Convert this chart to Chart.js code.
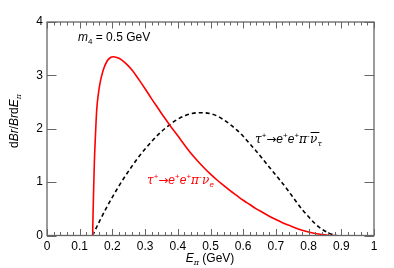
<!DOCTYPE html>
<html>
<head>
<meta charset="utf-8">
<script src="https://cdn.jsdelivr.net/npm/chart.js@4.4.1/dist/chart.umd.min.js"></script>
<style>
html,body{margin:0;padding:0;background:#fff;}
#wrap{width:394px;height:268px;position:relative;}
</style>
</head>
<body>
<div id="wrap"><canvas id="c" width="394" height="268"></canvas></div>
<script>
// Red curve: tau+ -> e+ e+ pi- nu_e
const eRed = [0.1396,0.141,0.143,0.145,0.148,0.152,0.157,0.162,0.172,0.183,0.193,0.203,0.22,0.24,0.26,0.28,0.30,0.32,0.34,0.36,0.38,0.40,0.42,0.44,0.46,0.48,0.50,0.52,0.54,0.56,0.58,0.60,0.62,0.64,0.66,0.68,0.70,0.72,0.74,0.76,0.78,0.80,0.82,0.84,0.86,0.875,0.886];
const brRed = [0,0.45,0.95,1.4,1.85,2.35,2.65,2.85,3.10,3.26,3.33,3.35,3.32,3.23,3.10,2.93,2.75,2.56,2.38,2.20,2.03,1.87,1.70,1.54,1.40,1.27,1.15,1.04,0.94,0.84,0.75,0.66,0.58,0.50,0.43,0.36,0.30,0.24,0.19,0.14,0.10,0.065,0.038,0.018,0.006,0.001,0];
// Black dashed curve: tau+ -> e+ e+ pi- nubar_tau
const eBlack = [0.1396,0.16,0.18,0.20,0.22,0.24,0.26,0.28,0.30,0.32,0.34,0.36,0.38,0.40,0.42,0.44,0.46,0.48,0.50,0.52,0.54,0.56,0.58,0.60,0.62,0.64,0.66,0.68,0.70,0.72,0.74,0.76,0.78,0.80,0.82,0.84,0.86,0.875,0.885];
const brBlack = [0,0.26,0.50,0.72,0.93,1.12,1.30,1.47,1.62,1.76,1.89,2.00,2.10,2.18,2.24,2.28,2.30,2.30,2.28,2.24,2.17,2.08,1.98,1.86,1.72,1.58,1.43,1.28,1.13,0.98,0.82,0.65,0.49,0.35,0.22,0.12,0.05,0.015,0];
const xMajor = [0,0.1,0.2,0.3,0.4,0.5,0.6,0.7,0.8,0.9,1];
const xTickLabels = ["0","0.1","0.2","0.3","0.4","0.5","0.6","0.7","0.8","0.9","1"];
const yMajor = [0,1,2,3,4];
const yTickLabels = ["0","1","2","3","4"];

const SANS = '"Liberation Sans", Arial, sans-serif';
const GREEK = '"DejaVu Serif", "Liberation Serif", serif';
const ARROW = '"DejaVu Sans", sans-serif';

function drawRich(ctx, segs, x, y, align) {
  let w = 0;
  segs.forEach(s => { ctx.font = s.f; s.w = ctx.measureText(s.t).width; w += s.w; });
  let cx = align === 'center' ? x - w / 2 : x;
  segs.forEach(s => {
    ctx.font = s.f;
    ctx.fillText(s.t, cx, y + (s.dy || 0));
    if (s.bar) {
      ctx.save();
      ctx.strokeStyle = ctx.fillStyle;
      ctx.lineWidth = 1;
      ctx.beginPath();
      ctx.moveTo(cx + 0.5, y - 10.5);
      ctx.lineTo(cx + s.w + 2, y - 10.5);
      ctx.stroke();
      ctx.restore();
    }
    cx += s.w + (s.gap || 0);
  });
}

const framePlugin = {
  id: 'frame',
  afterDatasetsDraw(chart) {
    const ctx = chart.ctx, a = chart.chartArea;
    const xs = chart.scales.x, ys = chart.scales.y;
    ctx.save();
    ctx.strokeStyle = '#666';
    ctx.lineWidth = 1.3;
    ctx.strokeRect(a.left, a.top, a.right - a.left, a.bottom - a.top);
    ctx.beginPath();
    for (let i = 0; i <= 50; i++) {
      const v = i * 0.02;
      const px = Math.round(xs.getPixelForValue(v)) + 0.5;
      const len = (i % 5 === 0) ? 6.5 : 3.5;
      ctx.moveTo(px, a.bottom); ctx.lineTo(px, a.bottom - len);
      ctx.moveTo(px, a.top); ctx.lineTo(px, a.top + len);
    }
    yMajor.forEach(v => {
      const py = Math.round(ys.getPixelForValue(v)) + 0.5;
      ctx.moveTo(a.left, py); ctx.lineTo(a.left + 9.5, py);
      ctx.moveTo(a.right, py); ctx.lineTo(a.right - 9.5, py);
    });
    ctx.lineWidth = 1;
    ctx.stroke();
    ctx.restore();
  }
};

const textPlugin = {
  id: 'texts',
  afterDraw(chart) {
    const ctx = chart.ctx;
    ctx.save();
    ctx.textBaseline = 'alphabetic';
    ctx.textAlign = 'left';
    ctx.fillStyle = '#000';
    const S = '12px ' + SANS, I = 'italic 12px ' + SANS, SS = '8px ' + SANS, IS = 'italic 8px ' + SANS;
    const G = 'italic 12px ' + GREEK, GS = 'italic 8px ' + GREEK, A = '12px ' + ARROW;
    // m4 label
    drawRich(ctx, [{t:'m', f:I},{t:'4', f:SS, dy:3},{t:' = 0.5 GeV', f:S}], 78, 40.5, 'left');
    // x title
    drawRich(ctx, [{t:'E', f:I},{t:'\u03C0', f:GS, dy:3},{t:' (GeV)', f:S}], 210, 262, 'center');
    // y title rotated
    ctx.save();
    ctx.translate(17.5, 121);
    ctx.rotate(-Math.PI / 2);
    drawRich(ctx, [{t:'d', f:S},{t:'Br', f:I},{t:'/', f:S},{t:'Br', f:I},{t:'d', f:S},{t:'E', f:I},{t:'\u03C0', f:GS, dy:3}], 0, 0, 'center');
    ctx.restore();
    // black label
    ctx.fillStyle = '#000';
    drawRich(ctx, [
      {t:'\u03C4', f:G},{t:'+', f:SS, dy:-5},{t:'\u2192', f:A},{t:'e', f:I},{t:'+', f:SS, dy:-5},
      {t:'e', f:I},{t:'+', f:SS, dy:-5},{t:'\u03C0', f:G},{t:'-', f:SS, dy:-5, gap:0.5},
      {t:'\u03BD', f:G, bar:true},{t:'\u03C4', f:GS, dy:3}
    ], 255, 143, 'left');
    // red label
    ctx.fillStyle = '#ff0000';
    drawRich(ctx, [
      {t:'\u03C4', f:G},{t:'+', f:SS, dy:-5},{t:'\u2192', f:A},{t:'e', f:I},{t:'+', f:SS, dy:-5},
      {t:'e', f:I},{t:'+', f:SS, dy:-5},{t:'\u03C0', f:G},{t:'-', f:SS, dy:-5, gap:0.5},
      {t:'\u03BD', f:G},{t:'e', f:IS, dy:3}
    ], 147, 184, 'left');
    ctx.restore();
  }
};

new Chart(document.getElementById('c'), {
  type: 'line',
  data: {
    datasets: [
      {
        label: 'tau+ -> e+ e+ pi- nu_e',
        data: eRed.map((x, i) => ({x: x, y: brRed[i]})),
        borderColor: '#ff0000',
        borderWidth: 1.6,
        pointRadius: 0,
        fill: false,
        cubicInterpolationMode: 'monotone'
      },
      {
        label: 'tau+ -> e+ e+ pi- nubar_tau',
        data: eBlack.map((x, i) => ({x: x, y: brBlack[i]})),
        borderColor: '#000000',
        borderWidth: 1.6,
        borderDash: [4, 3],
        pointRadius: 0,
        fill: false,
        cubicInterpolationMode: 'monotone'
      }
    ]
  },
  options: {
    responsive: false,
    animation: false,
    devicePixelRatio: 1,
    layout: { padding: { top: 22, right: 20, left: 0, bottom: 0 } },
    plugins: { legend: { display: false }, title: { display: false }, tooltip: { enabled: false } },
    scales: {
      x: {
        type: 'linear', min: 0, max: 1,
        grid: { display: false, drawTicks: false },
        border: { display: false },
        afterBuildTicks(s) { s.ticks = xMajor.map(v => ({value: v})); },
        afterFit(s) { s.height = 32.5; },
        ticks: {
          autoSkip: false, maxRotation: 0, padding: 4, color: '#000',
          font: { family: SANS, size: 12 },
          callback(v) { const i = xMajor.findIndex(m => Math.abs(m - v) < 1e-6); return i >= 0 ? xTickLabels[i] : ''; }
        }
      },
      y: {
        type: 'linear', min: 0, max: 4,
        grid: { display: false, drawTicks: false },
        border: { display: false },
        afterBuildTicks(s) { s.ticks = yMajor.map(v => ({value: v})); },
        afterFit(s) { s.width = 47; },
        ticks: {
          autoSkip: false, padding: 4, color: '#000',
          font: { family: SANS, size: 12 },
          callback(v) { const i = yMajor.indexOf(v); return i >= 0 ? yTickLabels[i] : ''; }
        }
      }
    }
  },
  plugins: [framePlugin, textPlugin]
});
</script>
</body>
</html>
